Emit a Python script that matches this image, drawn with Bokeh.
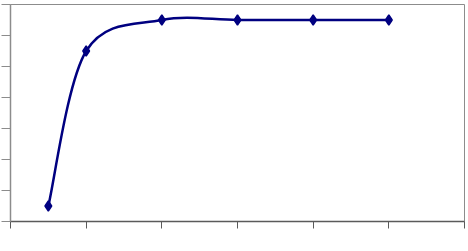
from bokeh.plotting import figure
from bokeh.models import Range1d, FixedTicker
from bokeh.embed import file_html
from bokeh.resources import INLINE

# data
x_vals = [0.5, 1, 2, 3, 4, 5]
y_vals = [0.5, 5.5, 6.5, 6.5, 6.5, 6.5]
x_ticks = [0, 1, 2, 3, 4, 5, 6]
y_ticks = [0, 1, 2, 3, 4, 5, 6, 7]

# smoothed line (Catmull-Rom as cubic Bezier segments) built from the data
n = len(x_vals)
def pt(i):
    i = max(0, min(n - 1, i))
    return x_vals[i], y_vals[i]

bx0, by0, bx1, by1, cx0, cy0, cx1, cy1 = [], [], [], [], [], [], [], []
for i in range(n - 1):
    pm1, p0, p1, p2 = pt(i - 1), pt(i), pt(i + 1), pt(i + 2)
    bx0.append(p0[0]); by0.append(p0[1])
    bx1.append(p1[0]); by1.append(p1[1])
    cx0.append(p0[0] + (p1[0] - pm1[0]) / 6); cy0.append(p0[1] + (p1[1] - pm1[1]) / 6)
    cx1.append(p1[0] - (p2[0] - p0[0]) / 6); cy1.append(p1[1] - (p2[1] - p0[1]) / 6)

p = figure(width=468, height=251, output_backend="svg", toolbar_location=None,
           x_range=Range1d(0, 6), y_range=Range1d(0, 7),
           min_border_left=10, min_border_right=4, min_border_top=4, min_border_bottom=30)
p.background_fill_color = "white"
p.border_fill_color = "white"
p.outline_line_color = "#8c8c8c"
p.outline_line_width = 1
p.xgrid.visible = False
p.ygrid.visible = False

p.bezier(x0=bx0, y0=by0, x1=bx1, y1=by1, cx0=cx0, cy0=cy0, cx1=cx1, cy1=cy1,
         line_color="#000080", line_width=2.5)
p.scatter(x_vals, y_vals, marker="diamond", size=10, fill_color="#000080", line_color="#000080",
          line_width=1.5)

for ax, ticks, tick_out, col in ((p.xaxis[0], x_ticks, 7, "#5a5a5a"), (p.yaxis[0], y_ticks, 9, "#8c8c8c")):
    ax.ticker = FixedTicker(ticks=ticks)
    ax.major_tick_out = tick_out
    ax.major_tick_in = 0
    ax.minor_tick_line_color = None
    ax.major_label_overrides = {t: "" for t in ticks}
    ax.major_label_standoff = 0
    ax.axis_line_color = col
    ax.major_tick_line_color = col
    ax.axis_line_width = 1.5

open("out.html", "w").write(file_html(p, INLINE))
